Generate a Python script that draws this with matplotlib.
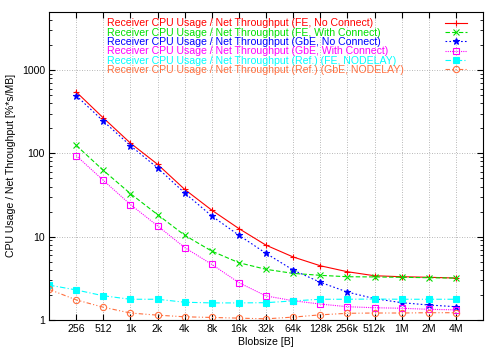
import matplotlib
matplotlib.use('Agg')
import matplotlib.pyplot as plt
from matplotlib.lines import Line2D
from matplotlib.ticker import FixedLocator, LogLocator, NullFormatter

plt.rcParams['font.family'] = ['Liberation Sans', 'DejaVu Sans']
plt.rcParams['font.size'] = 7.6

# blob sizes in bytes
sizes = [256, 512, 1024, 2048, 4096, 8192, 16384, 32768, 65536, 131072,
         262144, 524288, 1048576, 2097152, 4194304]
size_labels = ['256', '512', '1k', '2k', '4k', '8k', '16k', '32k', '64k',
               '128k', '256k', '512k', '1M', '2M', '4M']
ref_sizes = [128] + sizes

fe_noconn = [548, 267, 133, 74, 37, 20.8, 12.5, 7.9, 5.7, 4.47, 3.79, 3.39, 3.30, 3.25, 3.18]
fe_conn = [125, 62.6, 32.9, 18.4, 10.4, 6.7, 4.86, 4.05, 3.62, 3.43, 3.30, 3.28, 3.25, 3.21, 3.18]
gbe_noconn = [495, 244, 124, 67, 33.5, 17.7, 10.4, 6.3, 3.97, 2.83, 2.16, 1.80, 1.61, 1.51, 1.44]
gbe_conn = [94, 47.5, 24.3, 13.5, 7.4, 4.65, 2.8, 1.94, 1.70, 1.55, 1.44, 1.40, 1.38, 1.34, 1.32]
ref_fe = [2.62, 2.29, 1.95, 1.77, 1.77, 1.63, 1.60, 1.60, 1.61, 1.69, 1.77, 1.77, 1.78, 1.77, 1.77, 1.77]
ref_gbe = [2.33, 1.74, 1.42, 1.21, 1.14, 1.09, 1.07, 1.05, 1.03, 1.08, 1.15, 1.20, 1.21, 1.21, 1.22, 1.22]

base = 'Receiver CPU Usage / Net Throughput '
series = [
    (sizes, fe_noconn, base + '(FE, No Connect)', '#ff0000', '-', '+', False),
    (sizes, fe_conn, base + '(FE, With Connect)', '#00e000', (0, (4, 2)), 'x', False),
    (sizes, gbe_noconn, base + '(GbE, No Connect)', '#0000ff', (0, (1.5, 2)), '*', True),
    (sizes, gbe_conn, base + '(GbE, With Connect)', '#ff00ff', (0, (1, 1)), 's', False),
    (ref_sizes, ref_fe, base + '(Ref.) (FE, NODELAY)', '#00ffff', (0, (5, 2, 1, 2)), 's', True),
    (ref_sizes, ref_gbe, base + '(Ref.) (GbE, NODELAY)', '#ff7040', (0, (4, 2, 1, 2, 1, 2)), 'o', False),
]

fig = plt.figure(figsize=(5, 3.5), dpi=100)
ax = fig.add_axes([0.098, 0.086, 0.868, 0.88])

lines = []
for x, y, lab, c, ls, m, filled in series:
    ln, = ax.plot(x, y, color=c, linestyle=ls, linewidth=0.8, marker=m,
                  markersize=4.5, markeredgewidth=0.8,
                  markerfacecolor=(c if filled else 'none'),
                  markeredgecolor=c)
    lines.append(ln)

ax.set_xscale('log', base=2)
ax.set_yscale('log')
ax.set_xlim(128, 8388608)
ax.set_ylim(1, 5000)

ax.set_xticks(sizes)
ax.set_xticklabels(size_labels)
ax.xaxis.set_minor_locator(FixedLocator([]))
ax.set_yticks([1, 10, 100, 1000])
ax.set_yticklabels(['1', '10', '100', '1000'])
ax.yaxis.set_minor_locator(LogLocator(base=10, subs=range(2, 10)))
ax.yaxis.set_minor_formatter(NullFormatter())

ax.tick_params(which='both', direction='in', top=True, right=True)
ax.tick_params(which='major', length=4, pad=3)
ax.tick_params(which='minor', length=2)
ax.grid(True, which='major', linestyle=(0, (1, 2)), color='#a0a0a0', linewidth=0.6)

ax.set_xlabel('Blobsize [B]', labelpad=2)
ax.set_ylabel('CPU Usage / Net Throughput [%*s/MB]', labelpad=4)

# legend: text block (left aligned) + samples block (right side)
blank = [Line2D([], [], alpha=0) for _ in series]
leg_text = ax.legend(blank, [s[2] for s in series], loc='upper left',
                     bbox_to_anchor=(0.12, 1.0), frameon=False,
                     handlelength=0, handletextpad=0, labelspacing=-0.06,
                     borderpad=0.1)
for t, s in zip(leg_text.get_texts(), series):
    t.set_color(s[3])
ax.add_artist(leg_text)

ax.legend(lines, [' '] * len(lines), loc='upper right',
          bbox_to_anchor=(0.985, 1.0), frameon=False,
          handlelength=2.1, handletextpad=0, labelspacing=-0.06,
          borderpad=0.1)

fig.savefig('out.png', dpi=100)
